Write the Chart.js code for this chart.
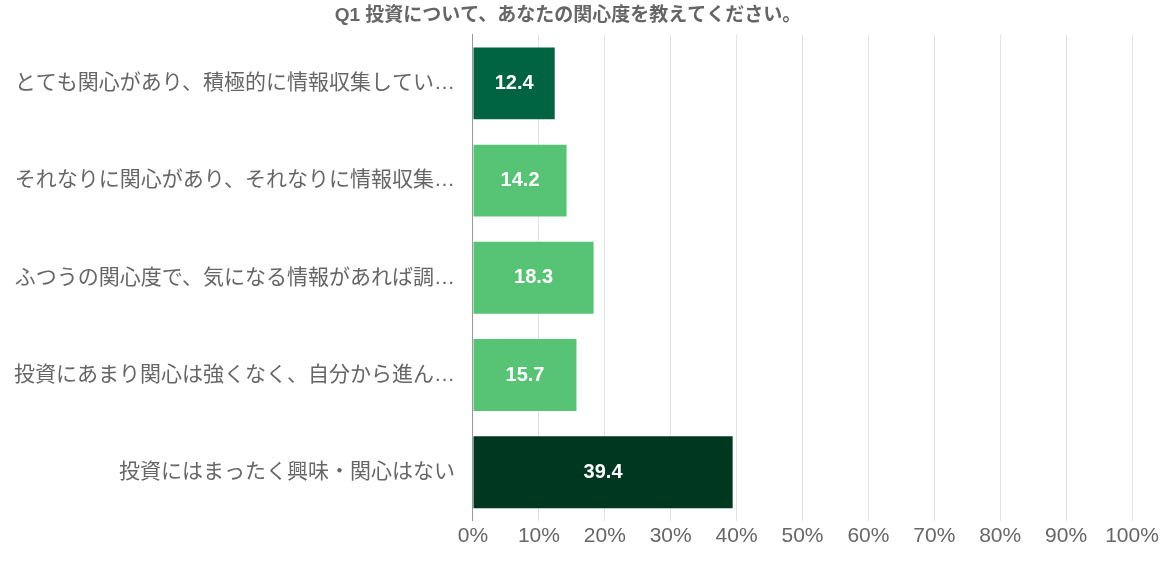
<!DOCTYPE html>
<html><head><meta charset="utf-8">
<script src="https://cdn.jsdelivr.net/npm/chart.js@4"></script>
<style>html,body{margin:0;padding:0;background:#fff}#w{width:1164px;height:562px}</style>
</head><body><div id="w"><canvas id="c"></canvas></div>
<script>
const categories=["とても関心があり、積極的に情報収集してい…","それなりに関心があり、それなりに情報収集…","ふつうの関心度で、気になる情報があれば調…","投資にあまり関心は強くなく、自分から進ん…","投資にはまったく興味・関心はない"];
const values=[12.4,14.2,18.3,15.7,39.4];
const colors=["#006341","#56C474","#56C474","#56C474","#003720"];
const titleText="Q1 投資について、あなたの関心度を教えてください。";
const font="'Liberation Sans','Noto Sans CJK JP',sans-serif";
const labelPlugin={id:'lbl',afterDatasetsDraw(ch){const ctx=ch.ctx;const m=ch.getDatasetMeta(0);ctx.save();ctx.fillStyle='#fff';ctx.font="bold 20px "+font;ctx.textAlign='center';ctx.textBaseline='middle';m.data.forEach((b,i)=>{ctx.fillText(values[i].toFixed(1),(b.x+b.base)/2,b.y);});ctx.restore();}};
new Chart(document.getElementById('c'),{type:'bar',data:{labels:categories,datasets:[{data:values,backgroundColor:colors,barPercentage:0.74,categoryPercentage:1}]},
options:{indexAxis:'y',responsive:true,maintainAspectRatio:false,animation:false,
layout:{padding:{left:4,right:32,top:0,bottom:10}},
plugins:{legend:{display:false},tooltip:{enabled:false},title:{display:true,text:titleText,color:'#666',font:{family:font,size:19,weight:'bold'},padding:{top:4,bottom:8}}},
scales:{x:{min:0,max:100,ticks:{stepSize:10,callback:v=>v+'%',color:'#666',font:{family:font,size:21}},grid:{color:'#e3e3e3',drawTicks:false},border:{display:false}},
y:{ticks:{color:'#666',font:{family:font,size:21},padding:10},grid:{display:false},border:{color:'#999'}}}},plugins:[labelPlugin]});
</script></body></html>
